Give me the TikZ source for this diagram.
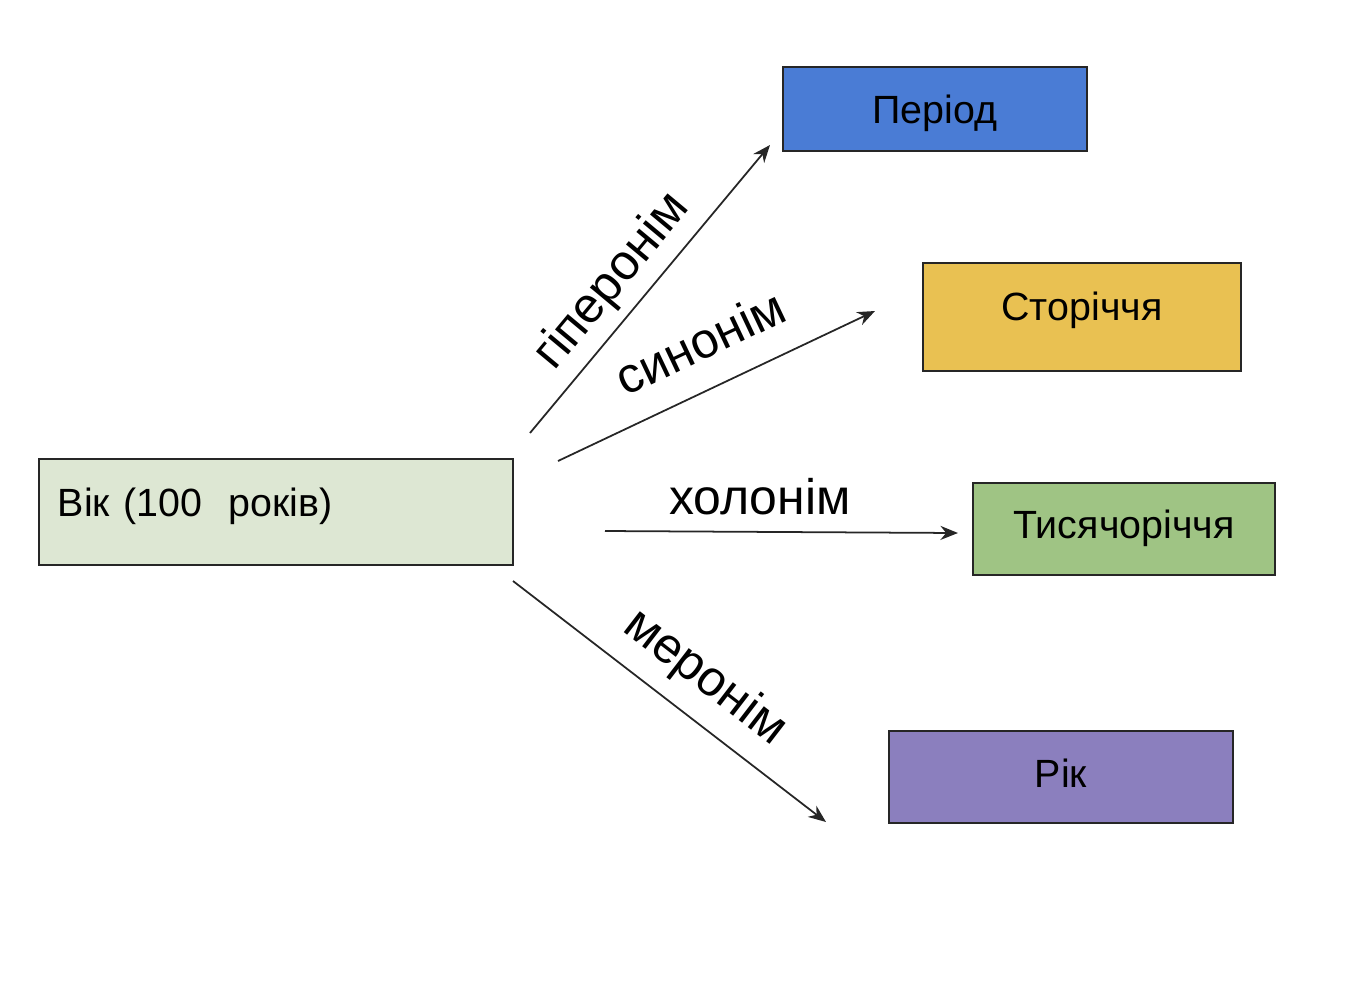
\documentclass[tikz,border=0pt]{standalone}
\usepackage{fontspec}
\setmainfont{Liberation Sans}
\usetikzlibrary{arrows.meta}
\definecolor{vik}{HTML}{DDE7D3}
\definecolor{period}{HTML}{4A7CD5}
\definecolor{storich}{HTML}{E9C152}
\definecolor{tysyach}{HTML}{9FC484}
\definecolor{rik}{HTML}{8B7FBE}

\begin{document}
\begin{tikzpicture}[x=0.01cm, y=-0.01cm,
  box/.style={rectangle, draw=black!85, line width=0.6pt, fill=#1, font=\fontsize{11.2pt}{13pt}\selectfont, text height=0.32cm, text depth=0.04cm, inner sep=0pt},
  arr/.style={-{Stealth[length=5pt, width=4pt]}, line width=0.5pt, draw=black!85},
  lbl/.style={font=\fontsize{14.2pt}{16pt}\selectfont, inner sep=0pt}
]
\useasboundingbox (0,0) rectangle (1362,990);

% Source node
\node[box=vik, minimum width=4.74cm, minimum height=1.06cm, text width=4.36cm, align=left, text depth=0.24cm] (vik) at (276,512) {Вік (100\ \ років)};

% Target nodes
\node[box=period, minimum width=3.04cm, minimum height=0.84cm] (period) at (935,109) {Період};
\node[box=storich, minimum width=3.18cm, minimum height=1.08cm, text depth=0.26cm] (storich) at (1082,317) {Сторіччя};
\node[box=tysyach, minimum width=3.02cm, minimum height=0.92cm, text depth=0.14cm] (tysyach) at (1124,529) {Тисячоріччя};
\node[box=rik, minimum width=3.44cm, minimum height=0.92cm, text depth=0.12cm] (rik) at (1061,777) {Рік};

% Arrow ends
\coordinate (hyp1) at (530,433);  \coordinate (hyp2) at (770,145);
\coordinate (syn1) at (558,461);  \coordinate (syn2) at (875,311);
\coordinate (hol1) at (605,531);  \coordinate (hol2) at (958,533);
\coordinate (mer1) at (513,581);  \coordinate (mer2) at (826,822);

% Arrows
\draw[arr] (hyp1) -- (hyp2);
\draw[arr] (syn1) -- (syn2);
\draw[arr] (hol1) -- (hol2);
\draw[arr] (mer1) -- (mer2);

% Labels
\node[lbl, rotate=50.2] (lhyp) at (613,282) {гіперонім};
\node[lbl, rotate=25.3] (lsyn) at (700,342) {синонім};
\node[lbl] (lhol) at (760,497) {холонім};
\node[lbl, rotate=-37.6] (lmer) at (705,678) {меронім};
\end{tikzpicture}
\end{document}
